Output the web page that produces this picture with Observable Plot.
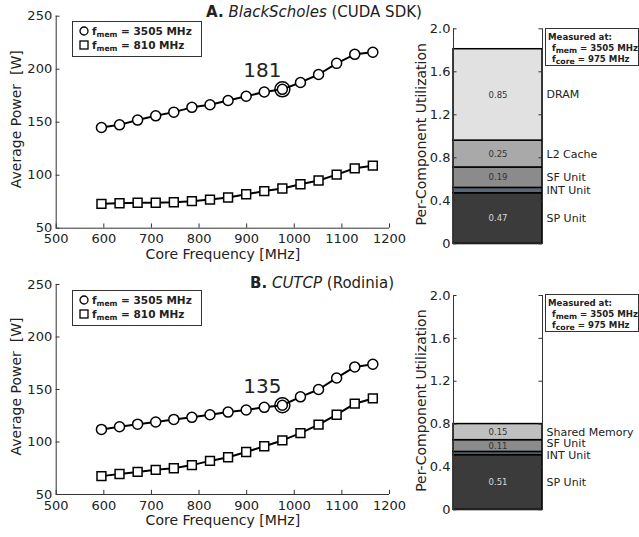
<!DOCTYPE html>
<html><head><meta charset="utf-8">
<script src="https://cdn.jsdelivr.net/npm/d3@7"></script>
<script src="https://cdn.jsdelivr.net/npm/@observablehq/plot@0.6"></script>
<style>
body{margin:0;background:#fff;}
#root{position:relative;width:639px;height:537px;overflow:hidden;font-family:"DejaVu Sans",sans-serif;color:#222;background:#fff;}
.abs{position:absolute;}
.title{font-size:15px;white-space:nowrap;transform:translateX(-50%);line-height:18px;}
.legend{border:1.3px solid #333;background:#fff;font-weight:bold;font-size:10.5px;line-height:14px;padding:2px 0 0 6px;box-sizing:border-box;white-space:nowrap;}
.legend svg{vertical-align:-1px;margin-right:3px;}
.legend sub{font-size:0.72em;vertical-align:-0.3em;line-height:0;}
.mbox{border:1.3px solid #333;background:#fff;font-weight:bold;font-size:8.6px;line-height:11px;padding:3px 0 0 2px;box-sizing:border-box;white-space:nowrap;}
.mbox .ind{padding-left:4px;}
.mbox sub{font-size:0.9em;vertical-align:-0.3em;line-height:0;}
</style></head><body><div id="root"></div>
<script>
// ---- data ----
const freqMHz = [595, 633, 671, 709, 747, 785, 823, 861, 899, 937, 975, 1013, 1051, 1089, 1127, 1165];
const powerA_3505 = [145, 147.5, 152, 156, 159.5, 164, 166.5, 170.5, 174.5, 178.5, 181, 187.5, 195, 205.5, 214, 216];
const powerA_810 = [73, 73.5, 74, 74, 74.5, 75.5, 77, 79, 82, 85, 87.5, 91.5, 95, 100.5, 106.5, 109];
const powerB_3505 = [112, 114.5, 117, 119, 121.5, 123.5, 126, 128.5, 130.5, 133, 135, 143, 150, 161, 171.5, 174];
const powerB_810 = [67.5, 69.5, 71.5, 73.5, 75, 78, 82, 85.5, 90.5, 96, 101.5, 108.5, 116.5, 126, 136.5, 141.5];
const highlightFreq = 975;
const freqTicks = [500, 600, 700, 800, 900, 1000, 1100, 1200];
const powerTicks = [50, 100, 150, 200, 250];
const utilTicks = [0, 0.4, 0.8, 1.2, 1.6, 2.0];

const compA = ["SP Unit", "INT Unit", "SF Unit", "L2 Cache", "DRAM"];
const utilA = [0.47, 0.05, 0.19, 0.25, 0.85];
const colorA = ["#3b3b3b", "#5a6876", "#8b8b8b", "#a9a9a9", "#e1e1e1"];
const compB = ["SP Unit", "INT Unit", "SF Unit", "Shared Memory"];
const utilB = [0.51, 0.03, 0.11, 0.15];
const colorB = ["#3b3b3b", "#5a6876", "#8b8b8b", "#c0c0c0"];

const seriesLabels = ["3505 MHz", "810 MHz"];
const measuredMem = "3505 MHz";
const measuredCore = "975 MHz";

const FONT = "DejaVu Sans";
const root = document.getElementById("root");

function place(node, left, top) {
  node.style.position = "absolute";
  node.style.left = left + "px";
  node.style.top = top + "px";
  root.appendChild(node);
}

function linePlot(hi, lo, height, marginTop, marginBottom) {
  const hiData = freqMHz.map((f, i) => ({f, p: hi[i]}));
  const loData = freqMHz.map((f, i) => ({f, p: lo[i]}));
  const hl = hiData.filter(d => d.f === highlightFreq);
  return Plot.plot({
    width: 400, height, marginLeft: 55.7, marginRight: 11, marginTop, marginBottom,
    x: {domain: [500, 1200]},
    y: {domain: [50, 250]},
    style: {fontFamily: FONT, fontSize: "13px", color: "#222", background: "transparent", overflow: "visible"},
    marks: [
      Plot.ruleX([500], {stroke: "#333"}),
      Plot.ruleY([50], {stroke: "#333"}),
      Plot.ruleX(freqTicks, {x: d => d, y1: () => 50, y2: () => 54, stroke: "#333"}),
      Plot.ruleY(powerTicks, {y: d => d, x1: () => 500, x2: () => 508, stroke: "#333"}),
      Plot.axisX({ticks: freqTicks, tickSize: 0, tickPadding: 6, label: null, tickFormat: d => String(d)}),
      Plot.axisY({ticks: powerTicks, tickSize: 0, tickPadding: 4, label: null, tickFormat: d => String(d)}),
      Plot.text(["Core Frequency [MHz]"], {text: d => d, frameAnchor: "bottom", lineAnchor: "middle", textAnchor: "middle", dy: 26, fontSize: 14}),
      Plot.text(["Average Power\u00a0 [W]"], {text: d => d, frameAnchor: "left", textAnchor: "middle", lineAnchor: "middle", rotate: -90, dx: -40, dy: -3, fontSize: 14}),
      Plot.line(hiData, {x: "f", y: "p", stroke: "black", strokeWidth: 2}),
      Plot.line(loData, {x: "f", y: "p", stroke: "black", strokeWidth: 2}),
      Plot.dot(hiData, {x: "f", y: "p", r: 5, fill: "white", stroke: "black", strokeWidth: 1.5}),
      Plot.dot(loData, {x: "f", y: "p", symbol: "square", r: 5, fill: "white", stroke: "black", strokeWidth: 1.5}),
      Plot.dot(hl, {x: "f", y: "p", r: 7.5, fill: "none", stroke: "black", strokeWidth: 1.5}),
      Plot.text(hl, {x: "f", y: "p", text: d => String(d.p), dx: -20, dy: -19, fontSize: 20})
    ]
  });
}

function lum(c) { const r = d3.rgb(c); return (0.299 * r.r + 0.587 * r.g + 0.114 * r.b) / 255; }

function barPlot(names, values, colors, height, marginTop, marginBottom) {
  const data = names.map((name, i) => ({name, value: values[i], color: colors[i]}));
  let acc = 0;
  for (const d of data) { d.y1 = acc; acc += d.value; d.y2 = acc; d.mid = (d.y1 + d.y2) / 2; }
  const pos = data.map(d => d.mid);
  const minGap = 0.11;
  for (let it = 0; it < 30; it++) {
    for (let i = 1; i < pos.length; i++) {
      const gap = pos[i] - pos[i - 1];
      if (gap < minGap) { const s = (minGap - gap) / 2; pos[i - 1] -= s; pos[i] += s; }
    }
  }
  data.forEach((d, i) => d.labelY = pos[i]);
  return Plot.plot({
    width: 239, height, marginLeft: 53, marginRight: 97, marginTop, marginBottom,
    x: {domain: [0, 1], axis: null},
    y: {domain: [0, 2], axis: null},
    color: {type: "identity"},
    style: {fontFamily: FONT, fontSize: "13px", color: "#222", background: "transparent", overflow: "visible"},
    marks: [
      Plot.rectY(data, {x1: () => 0, x2: () => 1, y1: "y1", y2: "y2", fill: "color", stroke: "black", strokeWidth: 1.5}),
      Plot.ruleX([0, 1], {x: d => d, y1: () => 0, y2: () => 2, stroke: "#333"}),
      Plot.ruleY([0], {stroke: "#333"}),
      Plot.ruleY(utilTicks, {y: d => d, x1: () => 0, x2: () => 0.04, stroke: "#333"}),
      Plot.ruleY(utilTicks, {y: d => d, x1: () => 0.96, x2: () => 1, stroke: "#333"}),
      Plot.axisY({ticks: utilTicks, tickSize: 0, tickPadding: 3, label: null, tickFormat: d => d === 0 ? "0" : d.toFixed(1)}),
      Plot.text(data.filter(d => d.value >= 0.1), {x: () => 0.5, y: "mid", text: d => d.value.toFixed(2), fill: d => lum(d.color) < 0.5 ? "#d8d8d8" : "#333", fontSize: 8.5}),
      Plot.text(data, {x: () => 1, y: "labelY", text: "name", textAnchor: "start", dx: 4, fontSize: 11}),
      Plot.text(["Per-Component Utilization"], {text: d => d, frameAnchor: "left", textAnchor: "middle", lineAnchor: "middle", rotate: -90, dx: -32, dy: -2, fontSize: 14})
    ]
  });
}

place(linePlot(powerA_3505, powerA_810, 268, 15.7, 40.3), 0, 0);
place(linePlot(powerB_3505, powerB_810, 269, 16, 43), 0, 268);
place(barPlot(compA, utilA, colorA, 268, 28.3, 24.7), 400, 0);
place(barPlot(compB, utilB, colorB, 269, 27, 27.7), 400, 268);

function html(s) { const t = document.createElement("template"); t.innerHTML = s.trim(); return t.content.firstChild; }

const circ = '<svg width="10" height="10"><circle cx="5" cy="5" r="4" fill="white" stroke="black" stroke-width="1.3"/></svg>';
const sq = '<svg width="10" height="10"><rect x="1" y="1" width="8" height="8" fill="white" stroke="black" stroke-width="1.3"/></svg>';
function legend() {
  return html(`<div class="legend" style="width:130px;height:36px;">
    <div>${circ}f<sub>mem</sub> = ${seriesLabels[0]}</div>
    <div>${sq}f<sub>mem</sub> = ${seriesLabels[1]}</div></div>`);
}
place(legend(), 72, 21);
place(legend(), 72, 290);

function mbox() {
  return html(`<div class="mbox" style="width:94px;height:38px;">
    <div>Measured at:</div>
    <div class="ind">f<sub>mem</sub> = ${measuredMem}</div>
    <div class="ind">f<sub>core</sub> = ${measuredCore}</div></div>`);
}
place(mbox(), 545, 28);
place(mbox(), 545, 294);

const tA = html(`<div class="title"><b>A.</b> <i>BlackScholes</i> (CUDA SDK)</div>`);
place(tA, 314, 3);
const tB = html(`<div class="title"><b>B.</b> <i>CUTCP</i> (Rodinia)</div>`);
place(tB, 322, 274);
</script></body></html>
